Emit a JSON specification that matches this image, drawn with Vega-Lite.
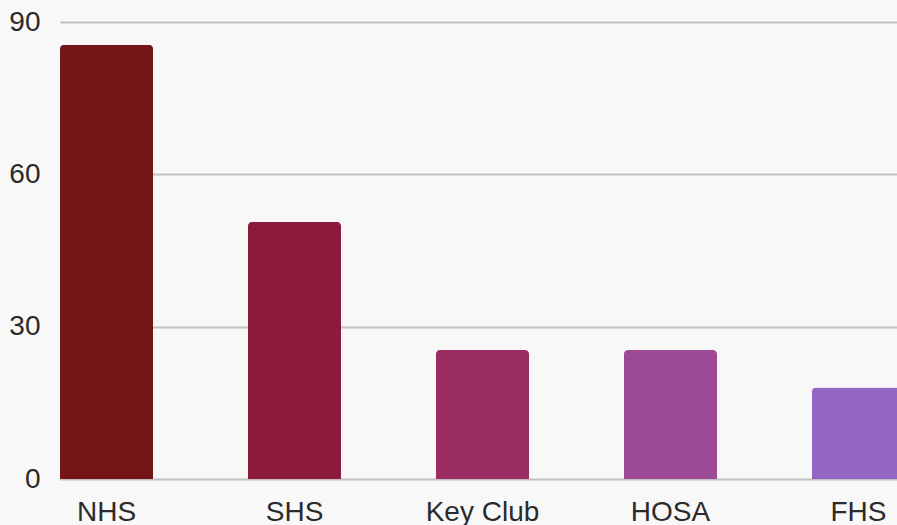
{
  "$schema": "https://vega.github.io/schema/vega-lite/v6.json",
  "autosize": "none",
  "padding": {"left": 60, "top": 22, "right": 0, "bottom": 46},
  "width": 845,
  "height": 457,
  "background": "#f8f8f8",
  "config": {"view": {"stroke": null}, "font": "Liberation Sans"},
  "data": {"values": [
    {"club": "NHS", "count": 85.5, "color": "#731517"},
    {"club": "SHS", "count": 50.6, "color": "#8b1a3b"},
    {"club": "Key Club", "count": 25.4, "color": "#9c2d62"},
    {"club": "HOSA", "count": 25.4, "color": "#9c4a95"},
    {"club": "FHS", "count": 18, "color": "#9366c3"}
  ]},
  "mark": {"type": "bar", "cornerRadiusTopLeft": 4, "cornerRadiusTopRight": 4},
  "encoding": {
    "x": {
      "field": "club", "type": "nominal", "sort": null,
      "scale": {"paddingInner": 0.505, "paddingOuter": 0},
      "axis": {"title": null, "labelAngle": 0, "domain": false, "ticks": false, "labelFontSize": 28, "labelColor": "#2b2b2b", "labelPadding": 19}
    },
    "y": {
      "field": "count", "type": "quantitative",
      "scale": {"domain": [0, 90], "nice": false},
      "axis": {"title": null, "values": [0, 30, 60, 90], "domain": false, "ticks": false, "labelFontSize": 28, "labelColor": "#2b2b2b", "labelPadding": 20, "gridColor": "#c0c0c0", "gridWidth": 2}
    },
    "color": {"field": "color", "type": "nominal", "scale": null, "legend": null}
  }
}
